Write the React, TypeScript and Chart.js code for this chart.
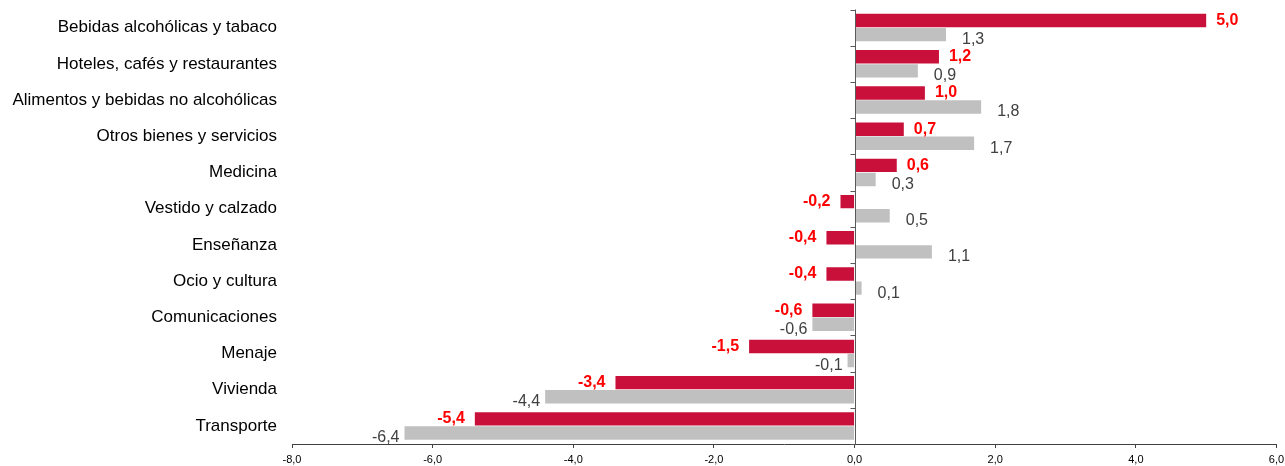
import React, { useEffect, useRef } from 'react';
import { Chart, registerables } from 'chart.js';

Chart.register(...registerables);

const categories = [
  'Bebidas alcohólicas y tabaco',
  'Hoteles, cafés y restaurantes',
  'Alimentos y bebidas no alcohólicas',
  'Otros bienes y servicios',
  'Medicina',
  'Vestido y calzado',
  'Enseñanza',
  'Ocio y cultura',
  'Comunicaciones',
  'Menaje',
  'Vivienda',
  'Transporte',
];

const seriesRed = [5.0, 1.2, 1.0, 0.7, 0.6, -0.2, -0.4, -0.4, -0.6, -1.5, -3.4, -5.4];
const seriesGray = [1.3, 0.9, 1.8, 1.7, 0.3, 0.5, 1.1, 0.1, -0.6, -0.1, -4.4, -6.4];

const xMin = -8;
const xMax = 6;
const xStep = 2;

const FONT = "'Liberation Sans', Arial, sans-serif";
const fmt = (v: number) => v.toFixed(1).replace('.', ',');

const labelStyles = [
  { color: '#FF0000', weight: 'bold', posGap: 10, negGap: 10, dy: 0 },
  { color: '#404040', weight: 'normal', posGap: 16, negGap: 5, dy: 5 },
];

const zeroAxisPlugin = {
  id: 'zeroAxis',
  afterDatasetsDraw(chart: any) {
    const { ctx, scales } = chart;
    const x = scales.x;
    const y = scales.y;
    const x0 = Math.round(x.getPixelForValue(0)) + 0.5;
    const n = categories.length;
    const band = (y.bottom - y.top) / n;
    ctx.save();
    ctx.strokeStyle = '#595959';
    ctx.lineWidth = 1;
    ctx.beginPath();
    ctx.moveTo(x0, y.top);
    ctx.lineTo(x0, y.bottom);
    for (let k = 0; k <= n; k++) {
      const py = Math.round(y.top + k * band) + 0.5;
      ctx.moveTo(x0 - 5, py);
      ctx.lineTo(x0, py);
    }
    ctx.stroke();

    chart.data.datasets.forEach((ds: any, di: number) => {
      const meta = chart.getDatasetMeta(di);
      const st = labelStyles[di];
      ctx.font = `${st.weight} 16px ${FONT}`;
      ctx.fillStyle = st.color;
      ctx.textBaseline = 'middle';
      meta.data.forEach((el: any, i: number) => {
        const v = ds.data[i];
        const py = el.y + st.dy;
        if (v >= 0) {
          ctx.textAlign = 'left';
          ctx.fillText(fmt(v), el.x + st.posGap, py);
        } else {
          ctx.textAlign = 'right';
          ctx.fillText(fmt(v), el.x - st.negGap, py);
        }
      });
    });
    ctx.restore();
  },
};

export default function App() {
  const ref = useRef<HTMLCanvasElement | null>(null);

  useEffect(() => {
    if (!ref.current) return;
    const chart = new Chart(ref.current, {
      type: 'bar',
      data: {
        labels: categories,
        datasets: [
          {
            label: 'Serie 1',
            data: seriesRed,
            backgroundColor: 'rgb(200,16,58)',
            categoryPercentage: 0.78,
            barPercentage: 0.95,
          },
          {
            label: 'Serie 2',
            data: seriesGray,
            backgroundColor: '#C0C0C0',
            categoryPercentage: 0.78,
            barPercentage: 0.95,
          },
        ],
      },
      options: {
        indexAxis: 'y',
        animation: false,
        responsive: false,
        maintainAspectRatio: false,
        layout: { padding: { top: 9.5, right: 8.5, left: 0, bottom: 0 } },
        plugins: {
          legend: { display: false },
          tooltip: { enabled: false },
        },
        scales: {
          x: {
            type: 'linear',
            min: xMin,
            max: xMax,
            ticks: {
              stepSize: xStep,
              callback: (v: any) => fmt(Number(v)),
              color: '#000',
              font: { family: FONT, size: 11 },
              padding: 5,
              maxRotation: 0,
            },
            grid: {
              display: true,
              drawOnChartArea: false,
              drawTicks: true,
              tickLength: 4,
              tickColor: '#404040',
            },
            border: { display: true, color: '#404040', width: 1 },
            afterFit: (s: any) => {
              s.height = 22;
              s.paddingLeft = 0;
              s.paddingRight = 0;
            },
          },
          y: {
            type: 'category',
            ticks: {
              color: '#000',
              font: { family: FONT, size: 17 },
              padding: 15,
              autoSkip: false,
            },
            grid: { display: false, drawTicks: false },
            border: { display: false },
            afterFit: (s: any) => {
              s.width = 292;
              s.paddingTop = 0;
              s.paddingBottom = 0;
            },
          },
        },
      },
      plugins: [zeroAxisPlugin],
    });
    return () => chart.destroy();
  }, []);

  return (
    <div style={{ position: 'fixed', left: 0, top: 0, width: 1285, height: 466, background: '#fff' }}>
      <canvas ref={ref} width={1285} height={466} style={{ display: 'block', width: 1285, height: 466 }} />
    </div>
  );
}
